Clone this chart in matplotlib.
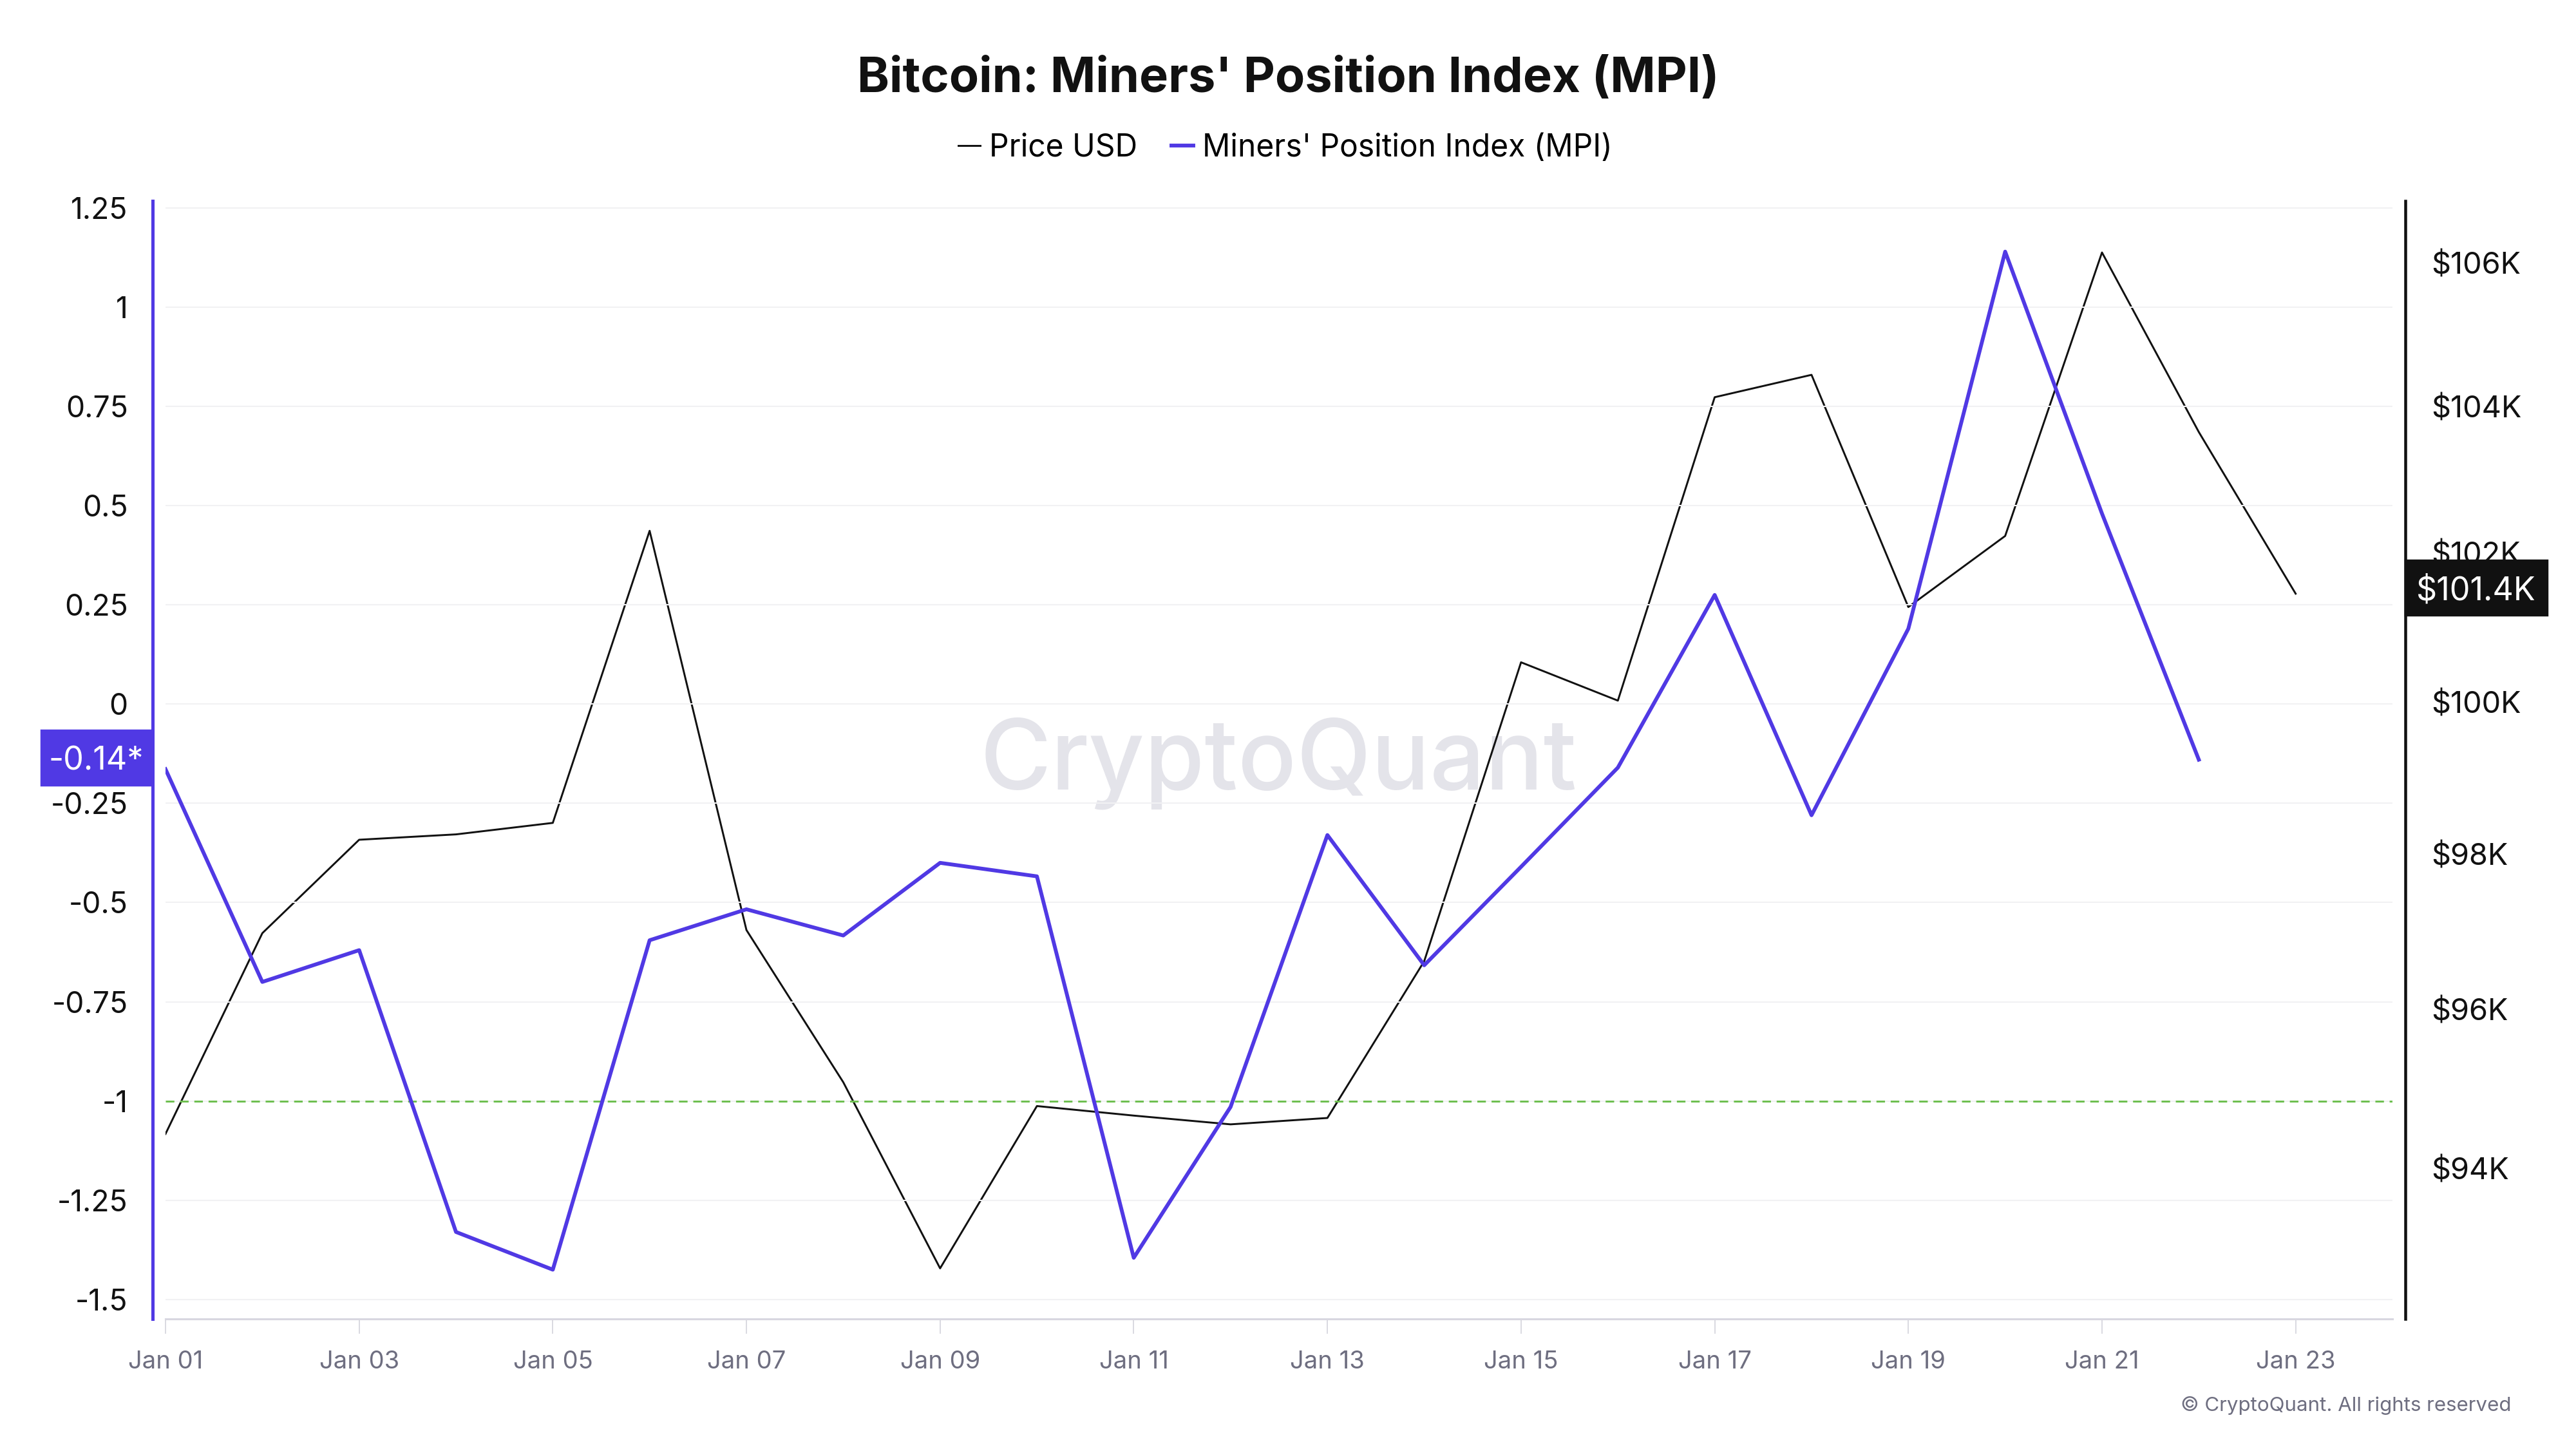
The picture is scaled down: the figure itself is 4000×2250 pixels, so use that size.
import matplotlib
matplotlib.use("Agg")
import matplotlib.pyplot as plt
import matplotlib.dates as mdates
import matplotlib.ticker as mticker
from matplotlib.patches import Rectangle
import numpy as np
import pandas as pd

plt.rcParams["font.family"] = ["Inter", "DejaVu Sans"]
plt.rcParams["axes.unicode_minus"] = False

# data
dates = pd.date_range("2025-01-01", "2025-01-23", freq="D")
price_usd = [94.43, 96.98, 98.19, 98.26, 98.41, 102.30, 97.02, 95.08, 92.76, 94.78,
             94.66, 94.55, 94.63, 96.62, 100.53, 100.02, 104.13, 104.44, 101.27,
             102.23, 106.15, 103.65, 101.45]  # thousands of USD
mpi = [-0.164, -0.70, -0.62, -1.33, -1.425, -0.595, -0.517, -0.583, -0.40, -0.434,
       -1.395, -1.015, -0.33, -0.658, -0.41, -0.16, 0.275, -0.28, 0.19, 1.14,
       0.48, -0.14]
mpi_ticks = [1.25, 1, 0.75, 0.5, 0.25, 0, -0.25, -0.5, -0.75, -1, -1.25, -1.5]
price_ticks = [94, 96, 98, 100, 102, 104, 106]
mpi_threshold = -1

BLUE = "#5039e4"
BLACK = "#111111"
GREEN = "#6dbf4f"

fig = plt.figure(figsize=(16, 9), dpi=250)
ax = fig.add_axes([0.06425, 0.0898, 0.8645, 0.7716])
ax2 = ax.twinx()
ax.set_zorder(ax2.get_zorder() + 1)
ax.patch.set_visible(False)

# price on right (log) axis
ax2.plot(dates, price_usd, color=BLACK, lw=0.85, zorder=3)
ax2.set_yscale("log")
ax2.set_ylim(92.14, 106.88)
ax2.yaxis.set_major_locator(mticker.FixedLocator(price_ticks))
ax2.yaxis.set_minor_locator(mticker.NullLocator())
ax2.yaxis.set_major_formatter(mticker.FuncFormatter(lambda v, p: f"${v:.0f}K"))
ax2.tick_params(axis="y", length=0, pad=11.5, labelsize=13.5, labelcolor=BLACK)
for s in ["left", "top", "bottom"]:
    ax2.spines[s].set_visible(False)
ax2.spines["right"].set_position(("outward", 5.8))
ax2.spines["right"].set_color(BLACK)
ax2.spines["right"].set_linewidth(1.3)

# MPI on left axis
ax.axhline(mpi_threshold, color=GREEN, lw=0.85, ls=(0, (4.5, 3)), zorder=2)
ax.plot(dates[:len(mpi)], mpi, color=BLUE, lw=1.7, solid_joinstyle="round", zorder=4)
ax.set_ylim(-1.549, 1.268)
ax.set_yticks(mpi_ticks)
ax.yaxis.set_major_formatter(mticker.FuncFormatter(lambda v, p: f"{v:g}"))
ax.tick_params(axis="y", length=0, pad=11, labelsize=13.3, labelcolor=BLACK)
ax.yaxis.grid(True, color="#f1f1f3", lw=0.6)
ax.set_axisbelow(True)

ax.set_xlim(dates[0], dates[-1] + pd.Timedelta(days=1))
ax.xaxis.set_major_locator(mdates.DayLocator(bymonthday=range(1, 32, 2)))
ax.xaxis.set_major_formatter(mdates.DateFormatter("%b %d"))
ax.tick_params(axis="x", length=6.6, width=0.5, color="#d5d5dd", pad=7.5,
               labelsize=11, labelcolor="#6e6e80")

for s in ["top", "right"]:
    ax.spines[s].set_visible(False)
ax.spines["left"].set_position(("outward", 5.8))
ax.spines["left"].set_color(BLUE)
ax.spines["left"].set_linewidth(1.45)
ax.spines["bottom"].set_color("#d8d7e0")
ax.spines["bottom"].set_linewidth(0.9)

# last-value badges
last_mpi = mpi[-1]
ax.add_patch(Rectangle((-0.0558, last_mpi + 0.005 - 0.069), 0.0494, 0.138,
                       transform=ax.get_yaxis_transform(), color=BLUE,
                       clip_on=False, zorder=5))
ax.text(-0.0558 + 0.0247, last_mpi + 0.005, f"{last_mpi:.2f}*",
        transform=ax.get_yaxis_transform(), ha="center", va="center_baseline",
        color="white", fontsize=14.5, zorder=6)

last_price = price_usd[-1]
badge_y = last_price * np.exp(0.0008)
h = 0.00363
ax2.add_patch(Rectangle((1.0058, badge_y * np.exp(-h)), 0.0636,
                        badge_y * (np.exp(h) - np.exp(-h)),
                        transform=ax2.get_yaxis_transform(), color=BLACK,
                        clip_on=False, zorder=5))
ax2.text(1.0058 + 0.0318, badge_y, f"${int(last_price * 10) / 10:.1f}K",
         transform=ax2.get_yaxis_transform(), ha="center", va="center_baseline",
         color="white", fontsize=14.5, zorder=6)

# watermark
ax2.text(0.4997, 0.497, "CryptoQuant", transform=ax2.transAxes, fontsize=43.5,
         color="#e4e4ea", ha="center", va="center", zorder=0, fontweight="medium")

fig.text(0.5, 0.9364, "Bitcoin: Miners' Position Index (MPI)", ha="center",
         va="baseline", fontsize=21.8, fontweight="bold", color=BLACK)

handles = [plt.Line2D([], [], color=BLACK, lw=0.85),
           plt.Line2D([], [], color=BLUE, lw=1.7)]
fig.legend(handles, ["Price USD", "Miners' Position Index (MPI)"], loc="center",
           bbox_to_anchor=(0.499, 0.898), ncol=2, frameon=False, fontsize=13.8,
           handlelength=0.7, handletextpad=0.3, columnspacing=1.1)

fig.text(0.975, 0.0298, "© CryptoQuant. All rights reserved", ha="right", va="center",
         fontsize=9, color="#6e6e80")

fig.savefig("out.png", dpi=250)
